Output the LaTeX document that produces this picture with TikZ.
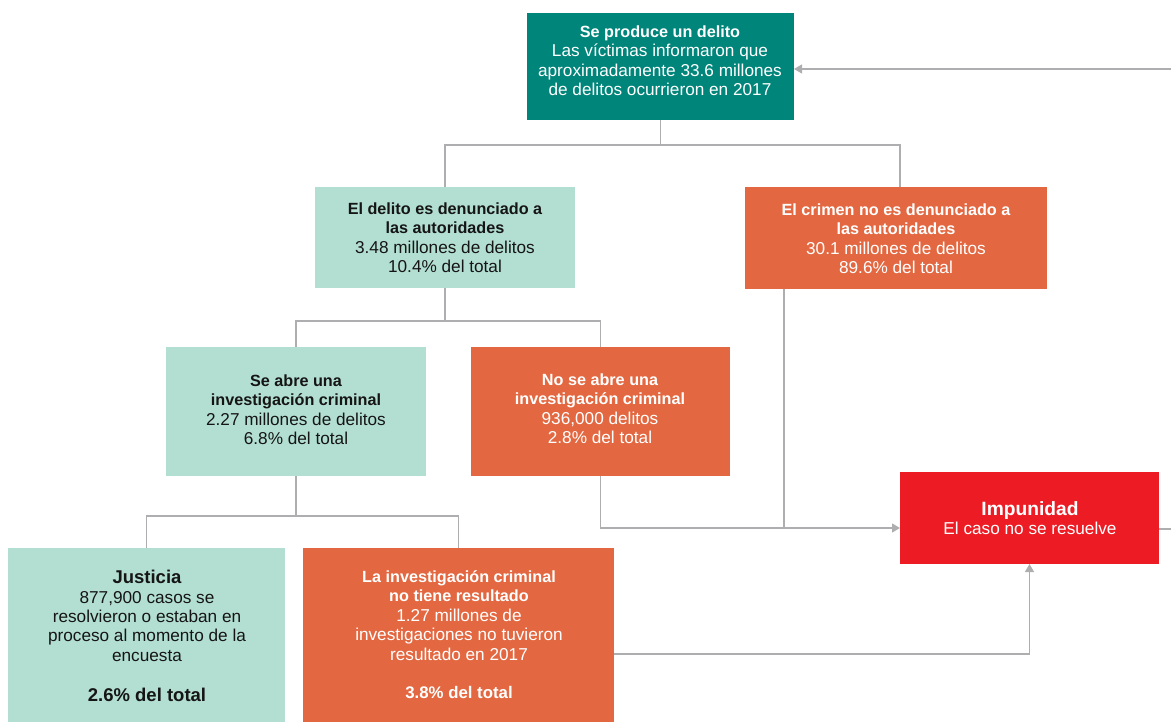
\documentclass[tikz,border=0pt]{standalone}
\usepackage{fontspec}
\setmainfont{Liberation Sans}
\usetikzlibrary{arrows.meta}
\definecolor{cteal}{HTML}{00857A}
\definecolor{cmint}{HTML}{B3DFD2}
\definecolor{corange}{HTML}{E36841}
\definecolor{cred}{HTML}{ED1C24}
\definecolor{cline}{HTML}{AEAEB0}
\definecolor{cdark}{HTML}{151515}
\newcommand{\tb}[1]{{\fontsize{16.2}{19.4}\selectfont\bfseries #1}}
\tikzset{
  box/.style={rectangle, inner sep=0pt, outer sep=0pt, anchor=north west},
  conn/.style={draw=cline, line width=1.3pt},
  arr/.style={conn, -{Triangle[length=8pt,width=9pt]}},
  txt/.style={inner sep=0pt, align=center, anchor=north, font={\fontsize{17.2}{19.4}\selectfont}},
  wtxt/.style={txt, text=white},
  dtxt/.style={txt, text=cdark},
}
\begin{document}
\begin{tikzpicture}[x=1pt,y=-1pt]
\useasboundingbox (0,0) rectangle (1171,722);
% boxes
\node[box, fill=cteal, minimum width=267pt, minimum height=107pt] (top) at (527,13) {};
\node[box, fill=cmint, minimum width=260pt, minimum height=101pt] (den) at (315,187) {};
\node[box, fill=corange, minimum width=302pt, minimum height=102pt] (noden) at (745,187) {};
\node[box, fill=cmint, minimum width=260pt, minimum height=129pt] (abre) at (166,347) {};
\node[box, fill=corange, minimum width=259pt, minimum height=129pt] (noabre) at (471,347) {};
\node[box, fill=cred, minimum width=259pt, minimum height=92pt] (imp) at (900,472) {};
\node[box, fill=cmint, minimum width=277pt, minimum height=180pt] (just) at (8,548) {};
\node[box, fill=corange, minimum width=311pt, minimum height=180pt] (inv) at (303,548) {};
% texts
\node[wtxt] (topT) at (660,25.5) {\tb{Se produce un delito}\\Las víctimas informaron que\\aproximadamente 33.6 millones\\de delitos ocurrieron en 2017};
\node[dtxt] (denT) at (445,202.5) {\tb{El delito es denunciado a}\\\tb{las autoridades}\\3.48 millones de delitos\\10.4\% del total};
\node[wtxt] (nodenT) at (896,203.5) {\tb{El crimen no es denunciado a}\\\tb{las autoridades}\\30.1 millones de delitos\\89.6\% del total};
\node[dtxt] (abreT) at (296,374.5) {\tb{Se abre una}\\\tb{investigación criminal}\\2.27 millones de delitos\\6.8\% del total};
\node[wtxt] (noabreT) at (600,373.5) {\tb{No se abre una}\\\tb{investigación criminal}\\936,000 delitos\\2.8\% del total};
\node[wtxt] (impT) at (1030,501) {{\fontsize{19.2}{19.4}\selectfont\bfseries Impunidad}\\El caso no se resuelve};
\node[dtxt] (justT) at (147,570) {{\fontsize{18.5}{19.4}\selectfont\bfseries Justicia}\\877,900 casos se\\resolvieron o estaban en\\proceso al momento de la\\encuesta};
\node[dtxt, font={\fontsize{18.5}{19.4}\selectfont\bfseries}] (justP) at (147,688) {2.6\% del total};
\node[wtxt] (invT) at (459,570.5) {\tb{La investigación criminal}\\\tb{no tiene resultado}\\1.27 millones de\\investigaciones no tuvieron\\resultado en 2017};
\node[wtxt, font={\fontsize{16.8}{19.4}\selectfont\bfseries}] (invP) at (459,686.5) {3.8\% del total};
% connector coordinates
\coordinate (b1) at (660.5,145);
\coordinate (nodenTop) at (900,187);
\coordinate (b2) at (445,321);
\coordinate (b3) at (296,516);
\coordinate (impIn) at (900,528);
\coordinate (nodenDown) at (784,289);
\coordinate (invOut) at (614,654);
\coordinate (impOut) at (1159,529);
\coordinate (edgeR) at (1171,529);
\coordinate (edgeTop) at (1171,69);
\coordinate (topIn) at (794,69);
% connectors
\draw[conn] (top.south) -- (b1);
\draw[conn] (den.north) |- (b1) -| (nodenTop);
\draw[conn] (den.south) -- (b2);
\draw[conn] (abre.north) |- (b2) -| (noabre.north);
\draw[conn] (abre.south) -- (b3);
\draw[conn] (just.north) |- (b3) -| (inv.north);
\draw[arr] (noabre.south) |- (impIn);
\draw[conn] (nodenDown) -- (nodenDown |- impIn);
\draw[arr] (invOut) -| (imp.south);
\draw[conn] (impOut) -- (edgeR);
\draw[arr] (edgeTop) -- (topIn);
\end{tikzpicture}
\end{document}
